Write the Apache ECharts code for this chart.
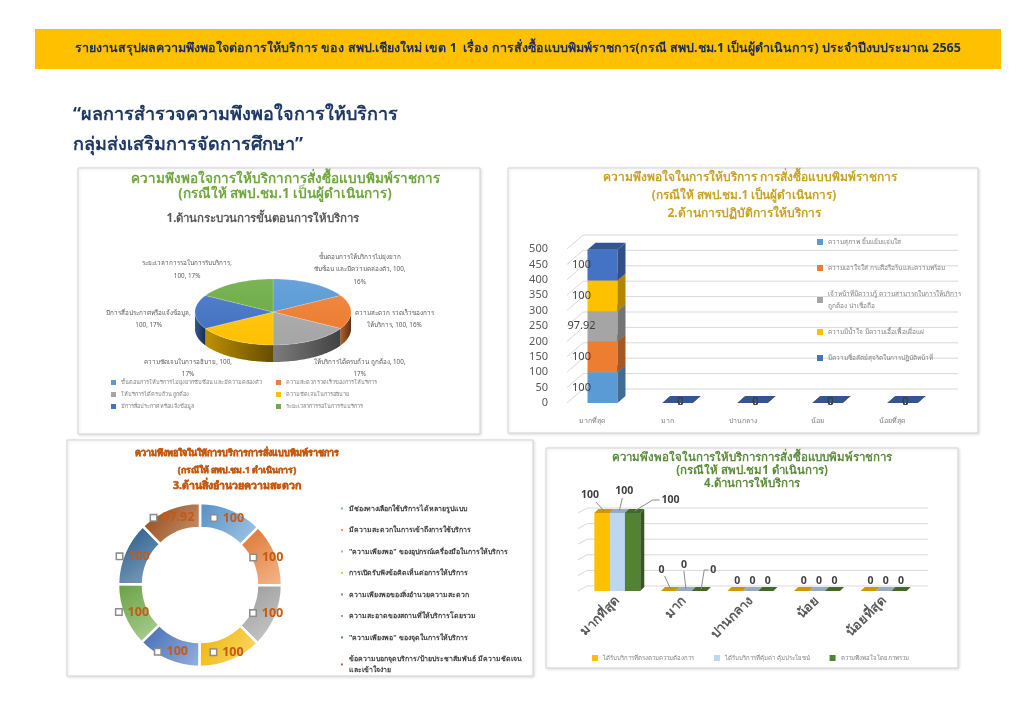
<!DOCTYPE html>
<html><head><meta charset="utf-8">
<script src="https://cdn.jsdelivr.net/npm/echarts@6/dist/echarts.min.js"></script>
<style>html,body{margin:0;padding:0;background:#fff}#c{width:1024px;height:725px}</style>
</head><body><div id="c"></div>
<script>
const FONT = "'Noto Sans', 'DejaVu Sans', sans-serif";
const ZW = '\u200B'; // soft line-break opportunity inside Thai text

// ---------- page text ----------
const headerText = 'รายงานสรุปผลความพึงพอใจต่อการให้บริการ ของ สพป.เชียงใหม่ เขต 1  เรื่อง การสั่งซื้อแบบพิมพ์ราชการ(กรณี สพป.ชม.1 เป็นผู้ดำเนินการ) ประจำปีงบประมาณ 2565';
const pageTitle = ['“ผลการสำรวจความพึงพอใจการให้บริการ', 'กลุ่มส่งเสริมการจัดการศึกษา”'];

// ---------- chart 1 (3D pie) ----------
const c1Title = ['ความพึงพอใจการให้บริกาการสั่งซื้อแบบพิมพ์ราชการ', '(กรณีให้ สพป.ชม.1 เป็นผู้ดำเนินการ)'];
const c1Sub = '1.ด้านกระบวนการขั้นตอนการให้บริการ';
const c1Names = ['ขั้นตอนการให้บริการไม่ยุ่งยาก' + ZW + 'ซับซ้อน และมีความคล่องตัว', 'ความสะดวก รวดเร็วของการ' + ZW + 'ให้บริการ', 'ให้บริการได้ครบถ้วน ถูกต้อง', 'ความชัดเจนในการอธิบาย', 'มีการสื่อประกาศหรือแจ้งข้อมูล', 'ระยะเวลาการรอในการรับบริการ'];
const c1Values = [100, 100, 100, 100, 100, 100];
const c1Pct = [16, 16, 17, 17, 17, 17];
const c1Colors = ['#5b9bd5', '#ed7d31', '#a5a5a5', '#ffc000', '#4472c4', '#70ad47'];

// ---------- chart 2 (3D stacked column) ----------
const c2Title = ['ความพึงพอใจในการให้บริการ การสั่งซื้อแบบพิมพ์ราชการ', '(กรณีให้ สพป.ชม.1 เป็นผู้ดำเนินการ)', '2.ด้านการปฏิบัติการให้บริการ'];
const c2Cats = ['มากที่สุด', 'มาก', 'ปานกลาง', 'น้อย', 'น้อยที่สุด'];
const c2Names = ['ความสุภาพ ยิ้มแย้มแจ่มใส', 'ความเอาใจใส่ กระตือรือร้น และความพร้อม', 'เจ้าหน้าที่มีความรู้ ความสามารถในการให้บริการ ถูกต้อง น่าเชื่อถือ', 'ความมีน้ำใจ มีความเอื้อเฟื้อเผื่อแผ่', 'มีความซื่อสัตย์สุจริตในการปฏิบัติหน้าที่'];
const c2S1 = [100, 0, 0, 0, 0];
const c2S2 = [100, 0, 0, 0, 0];
const c2S3 = [97.92, 0, 0, 0, 0];
const c2S4 = [100, 0, 0, 0, 0];
const c2S5 = [100, 0, 0, 0, 0];
const c2Ticks = [0, 50, 100, 150, 200, 250, 300, 350, 400, 450, 500];
const c2Colors = ['#5b9bd5', '#ed7d31', '#a5a5a5', '#ffc000', '#4472c4'];

// ---------- chart 3 (doughnut) ----------
const c3Title = ['ความพึงพอใจในให้การบริการการสั่งแบบพิมพ์ราชการ', '(กรณีให้ สพป.ชม.1 ดำเนินการ)', '3.ด้านสิ่งอำนวยความสะดวก'];
const c3Names = ['มีช่องทางเลือกใช้บริการได้หลายรูปแบบ', 'มีความสะดวกในการเข้าถึงการใช้บริการ', '"ความเพียงพอ" ของอุปกรณ์เครื่องมือในการให้บริการ', 'การเปิดรับฟังข้อคิดเห็นต่อการให้บริการ', 'ความเพียงพอของสิ่งอำนวยความสะดวก', 'ความสะอาดของสถานที่ให้บริการโดยรวม', '"ความเพียงพอ" ของจุดในการให้บริการ', 'ข้อความบอกจุดบริการ/ป้ายประชาสัมพันธ์ มีความชัดเจน' + ZW + 'และเข้าใจง่าย'];
const c3Values = [100, 100, 100, 100, 100, 100, 100, 97.92];
const c3Colors = ['#5b9bd5', '#ed7d31', '#a5a5a5', '#ffc000', '#4472c4', '#70ad47', '#255e91', '#9e480e'];

// ---------- chart 4 (3D clustered column) ----------
const c4Title = ['ความพึงพอใจในการให้บริการการสั่งซื้อแบบพิมพ์ราชการ', '(กรณีให้ สพป.ชม1 ดำเนินการ)', '4.ด้านการให้บริการ'];
const c4Cats = ['มากที่สุด', 'มาก', 'ปานกลาง', 'น้อย', 'น้อยที่สุด'];
const c4Names = ['ได้รับบริการที่ตรงตามความต้องการ', 'ได้รับบริการที่คุ้มค่า คุ้มประโยชน์', 'ความพึงพอใจโดยภาพรวม'];
const c4S1 = [100, 0, 0, 0, 0];
const c4S2 = [100, 0, 0, 0, 0];
const c4S3 = [100, 0, 0, 0, 0];
const c4Ticks = [0, 20, 40, 60, 80, 100];
const c4Colors = ['#ffc000', '#bdd7ee', '#548235'];

// ---------- helpers ----------
function mix(hex, target, t) {
  const a = parseInt(hex.slice(1), 16), b = parseInt(target.slice(1), 16);
  const ch = (n, s) => (n >> s) & 255;
  const r = Math.round(ch(a,16) + (ch(b,16) - ch(a,16)) * t);
  const g = Math.round(ch(a,8) + (ch(b,8) - ch(a,8)) * t);
  const bl = Math.round(ch(a,0) + (ch(b,0) - ch(a,0)) * t);
  return 'rgb(' + r + ',' + g + ',' + bl + ')';
}
const dark = (h, t) => mix(h, '#000000', t);
const light = (h, t) => mix(h, '#ffffff', t);
const mctx = document.createElement('canvas').getContext('2d');
function wrap(text, font, maxW) {
  mctx.font = font;
  const parts = text.split(/( |\u200B)/);
  const lines = []; let cur = '';
  for (let i = 0; i < parts.length; i += 2) {
    const w = parts[i], sep = i > 0 ? (parts[i - 1] === ' ' ? ' ' : '') : '';
    const t = cur ? cur + sep + w : w;
    if (cur && mctx.measureText(t).width > maxW) { lines.push(cur); cur = w; } else cur = t;
  }
  if (cur) lines.push(cur);
  let wmax = 0; lines.forEach(l => { wmax = Math.max(wmax, mctx.measureText(l).width); });
  return { text: lines.join('\n'), width: wmax };
}
const plain = s => s.split(ZW).join('');

// ---------- chart 1 custom 3D pie ----------
const P1 = { cx: 273, cy: 312, rx: 78, ry: 33, depth: 17 };
const c1Total = c1Values.reduce((a, b) => a + b, 0);
const c1Start = []; { let acc = 0; c1Values.forEach(v => { c1Start.push(acc); acc += v; }); }
function ep(a, off) { return [P1.cx + P1.rx * Math.sin(a), P1.cy - P1.ry * Math.cos(a) + (off || 0)]; }
function render1(i) {
  return function (params, api) {
    const v = api.value(0);
    const a0 = c1Start[i] / c1Total * 2 * Math.PI, a1 = (c1Start[i] + v) / c1Total * 2 * Math.PI;
    const col = c1Colors[i];
    const children = [];
    const n = 40;
    const s0 = Math.max(a0, Math.PI / 2), s1 = Math.min(a1, 3 * Math.PI / 2);
    if (s1 > s0) {
      const top = [], bot = [];
      for (let k = 0; k <= n; k++) { const a = s0 + (s1 - s0) * k / n; top.push(ep(a)); bot.push(ep(a, P1.depth)); }
      children.push({ type: 'polygon', z2: 1, shape: { points: top.concat(bot.reverse()) },
        style: { fill: new echarts.graphic.LinearGradient(0, 0, 1, 0, [{ offset: 0, color: dark(col, 0.25) }, { offset: 1, color: dark(col, 0.6) }]) } });
    }
    const pts = [[P1.cx, P1.cy]];
    for (let k = 0; k <= n; k++) pts.push(ep(a0 + (a1 - a0) * k / n));
    children.push({ type: 'polygon', z2: 5, shape: { points: pts },
      style: { fill: new echarts.graphic.LinearGradient(0, 0, 0, 1, [{ offset: 0, color: light(col, 0.08) }, { offset: 1, color: col }]), stroke: 'rgba(255,255,255,0.35)', lineWidth: 0.5 } });
    const am = (a0 + a1) / 2, s = Math.sin(am);
    const font = '6.3px ' + FONT;
    const w = wrap(c1Names[i] + ', ' + v + ', ' + c1Pct[i] + '%', font, 92);
    const ex = P1.cx + (P1.rx + 4) * s;
    const ey = P1.cy + 7 - (P1.ry + 24) * Math.cos(am);
    const lx = s > 0.05 ? ex + w.width / 2 : (s < -0.05 ? ex - w.width / 2 : ex);
    children.push({ type: 'text', z2: 6, x: lx, y: ey,
      style: { text: w.text, fill: '#595959', font: font, align: 'center', verticalAlign: 'middle', lineHeight: 12.5 } });
    return { type: 'group', children: children };
  };
}

// ---------- chart 2 custom 3D stacked ----------
const c2Series = [c2S1, c2S2, c2S3, c2S4, c2S5];
function c2Data(si) {
  return c2Cats.map((c, j) => {
    let base = 0; for (let k = 0; k < si; k++) base += c2Series[k][j];
    return [j, base, base + c2Series[si][j], c2Series[si][j]];
  });
}
function render2(si) {
  return function (params, api) {
    const j = api.value(0), base = api.value(1), top = api.value(2), v = api.value(3);
    const pb = api.coord([j, base]), pt = api.coord([j, top]);
    const bw = api.size([1, 0])[0] * 0.4;
    const x1 = pb[0] - bw / 2, x2 = pb[0] + bw / 2, yb = pb[1], yt = pt[1];
    const dx = 8, dy = -7;
    const col = c2Colors[si];
    const ch = [];
    ch.push({ type: 'rect', shape: { x: x1, y: yt, width: bw, height: yb - yt }, style: { fill: col } });
    ch.push({ type: 'polygon', shape: { points: [[x2, yt], [x2 + dx, yt + dy], [x2 + dx, yb + dy], [x2, yb]] }, style: { fill: dark(col, 0.3) } });
    ch.push({ type: 'polygon', shape: { points: [[x1, yt], [x1 + dx, yt + dy], [x2 + dx, yt + dy], [x2, yt]] }, style: { fill: dark(col, 0.25) } });
    if (v > 0) {
      ch.push({ type: 'text', x: pb[0] - 21, y: (yb + yt) / 2, z2: 10, style: { text: String(v), fill: '#404040', font: '11px ' + FONT, align: 'center', verticalAlign: 'middle' } });
    } else {
      ch.push({ type: 'text', x: pb[0] + 3, y: yb - 1, z2: 10, style: { text: '0', fill: '#404040', font: '11px ' + FONT, align: 'center', verticalAlign: 'middle' } });
    }
    return { type: 'group', children: ch };
  };
}
function renderGrid(gdx, gdy, sx) {
  return function (params, api) {
    const cs = params.coordSys;
    const y = api.coord([0, api.value(1)])[1];
    return { type: 'polyline', shape: { points: [[cs.x + sx, y], [cs.x + sx + gdx, y + gdy], [cs.x + cs.width + gdx + 2, y + gdy]] },
      style: { stroke: '#d9d9d9', lineWidth: 1, fill: null } };
  };
}

// ---------- chart 4 custom 3D clustered ----------
const c4Series = [c4S1, c4S2, c4S3];
// label placement with leader lines for the first two categories: [category][series]
const c4Lead = [
  [ { t: [-14, -16], l: [[0, 0], [-8, -9]] }, { t: [5, -20], l: [[0, 0], [3, -13]] }, { t: [36, -11], l: [[0, 0], [18, -11], [25, -11]] } ],
  [ { t: [-9, -19], l: [[0, 0], [-6, -13]] }, { t: [-2, -24], l: [[0, 0], [-2, -18]] }, { t: [12, -19], l: [[0, 0], [3, -19], [7, -19]] } ]
];
function render4(si) {
  return function (params, api) {
    const j = api.value(0), v = api.value(1);
    const p0 = api.coord([j, 0]), p1 = api.coord([j, v]);
    const bw = api.size([1, 0])[0] * 0.23;
    const cx = p0[0] + (si - 1) * bw;
    const x1 = cx - bw / 2, x2 = cx + bw / 2, yb = p0[1], yt = p1[1];
    const dx = 4, dy = -4;
    const col = c4Colors[si];
    const ch = [];
    ch.push({ type: 'rect', shape: { x: x1, y: yt, width: bw, height: yb - yt }, style: { fill: col } });
    ch.push({ type: 'polygon', shape: { points: [[x2, yt], [x2 + dx, yt + dy], [x2 + dx, yb + dy], [x2, yb]] }, style: { fill: dark(col, 0.35) } });
    ch.push({ type: 'polygon', shape: { points: [[x1, yt], [x1 + dx, yt + dy], [x2 + dx, yt + dy], [x2, yt]] }, style: { fill: dark(col, 0.2) } });
    const font = 'bold 10.5px ' + FONT;
    const ax = cx + 2, ay = yt - 2;
    if (j < 2) {
      const L = c4Lead[j][si];
      ch.push({ type: 'polyline', z2: 9, shape: { points: L.l.map(p => [ax + p[0], ay + p[1]]) }, style: { stroke: '#8c8c8c', lineWidth: 1, fill: null } });
      ch.push({ type: 'text', x: ax + L.t[0], y: ay + L.t[1], z2: 10, style: { text: String(v), fill: '#404040', font: font, align: 'center', verticalAlign: 'middle' } });
    } else {
      ch.push({ type: 'text', x: ax, y: yt - 10, z2: 10, style: { text: String(v), fill: '#404040', font: font, align: 'center', verticalAlign: 'middle' } });
    }
    return { type: 'group', children: ch };
  };
}

// ---------- graphics ----------
function panel(x, y, w, h) {
  return { type: 'rect', z: -10, shape: { x: x, y: y, width: w, height: h },
    style: { fill: '#ffffff', stroke: '#d4d4d4', lineWidth: 1, shadowBlur: 3, shadowColor: 'rgba(0,0,0,0.12)', shadowOffsetX: 1, shadowOffsetY: 1 } };
}
function txt(text, x, y, font, color, align, extra) {
  return { type: 'text', z: 10, x: x, y: y, style: Object.assign({ text: text, font: font, fill: color, align: align || 'center', verticalAlign: 'middle' }, extra || {}) };
}
const thick = { stroke: '#c55a11', lineWidth: 0.6 };
const graphics = [
  { type: 'rect', z: -10, shape: { x: 35, y: 29, width: 966, height: 40 }, style: { fill: '#ffc000' } },
  panel(78, 168, 402, 266), panel(508, 168, 470, 265), panel(67, 440, 466, 236), panel(546, 448, 412, 220),
  txt(headerText, 518, 48, 'bold 12.5px ' + FONT, '#1f2a5c'),
  txt(pageTitle[0], 73, 115, 'bold 18px ' + FONT, '#1f3864', 'left'),
  txt(pageTitle[1], 73, 145, 'bold 18px ' + FONT, '#1f3864', 'left'),
  txt(c1Title[0], 285, 179, 'bold 13.5px ' + FONT, '#70a83f'),
  txt(c1Title[1], 285, 194, 'bold 13.5px ' + FONT, '#70a83f'),
  txt(c1Sub, 263, 219, 'bold 11.5px ' + FONT, '#595959'),
  txt(c2Title[0], 750, 178, 'bold 12px ' + FONT, '#c9a227'),
  txt(c2Title[1], 744, 196, 'bold 11.8px ' + FONT, '#c9a227'),
  txt(c2Title[2], 744, 214, 'bold 12px ' + FONT, '#c9a227'),
  txt(c3Title[0], 237, 453, 'bold 9px ' + FONT, '#c55a11', 'center', thick),
  txt(c3Title[1], 237, 470, 'bold 8.8px ' + FONT, '#c55a11', 'center', thick),
  txt(c3Title[2], 237, 486, 'bold 10.5px ' + FONT, '#c55a11', 'center', thick),
  txt(c4Title[0], 752, 458, 'bold 11.5px ' + FONT, '#5b8c3a'),
  txt(c4Title[1], 752, 471, 'bold 11.5px ' + FONT, '#5b8c3a'),
  txt(c4Title[2], 752, 484, 'bold 11.5px ' + FONT, '#5b8c3a')
];

// ---------- series ----------
const series = [];
c1Names.forEach((nm, i) => {
  series.push({ type: 'custom', name: nm, coordinateSystem: 'none', renderItem: render1(i), data: [[c1Values[i]]], itemStyle: { color: c1Colors[i] }, silent: true });
});
series.push({ type: 'custom', name: 'grid2', coordinateSystem: 'cartesian2d', xAxisIndex: 0, yAxisIndex: 0, z: 1, renderItem: renderGrid(16, -14, 2), data: c2Ticks.map(t => [0, t]), silent: true });
c2Names.forEach((nm, i) => {
  series.push({ type: 'custom', name: nm, coordinateSystem: 'cartesian2d', xAxisIndex: 0, yAxisIndex: 0, z: 3, renderItem: render2(i), data: c2Data(i), itemStyle: { color: c2Colors[i] }, encode: { x: 0, y: 2 }, silent: true });
});
series.push({
  type: 'pie', name: 'c3', center: [200, 585], radius: [57, 82], startAngle: 90, clockwise: true, silent: true,
  itemStyle: { borderColor: '#ffffff', borderWidth: 2.5 },
  label: { position: 'inside', formatter: p => '{i|}  {v|' + p.value + '}',
    rich: { i: { width: 5, height: 5, backgroundColor: '#ffffff', borderColor: '#8c8c8c', borderWidth: 1.5 },
            v: { fontFamily: FONT, fontSize: 12.5, fontWeight: 'bold', color: '#c55a11' } } },
  labelLine: { show: false },
  data: c3Names.map((nm, i) => ({ name: nm, value: c3Values[i],
    itemStyle: { color: new echarts.graphic.LinearGradient(0, 0, 1, 1, [{ offset: 0, color: dark(c3Colors[i], 0.08) }, { offset: 1, color: light(c3Colors[i], 0.45) }]) } }))
});
series.push({ type: 'custom', name: 'grid4', coordinateSystem: 'cartesian2d', xAxisIndex: 1, yAxisIndex: 1, z: 1, renderItem: renderGrid(9, -5, -6), data: c4Ticks.map(t => [0, t]), silent: true });
c4Names.forEach((nm, i) => {
  series.push({ type: 'custom', name: nm, coordinateSystem: 'cartesian2d', xAxisIndex: 1, yAxisIndex: 1, z: 3, renderItem: render4(i), data: c4Cats.map((c, j) => [j, c4Series[i][j]]), itemStyle: { color: c4Colors[i] }, encode: { x: 0, y: 1 }, silent: true });
});

const legendText = { fontFamily: FONT, color: '#7f7f7f' };
const option = {
  animation: false,
  backgroundColor: '#ffffff',
  textStyle: { fontFamily: FONT },
  graphic: graphics,
  grid: [
    { left: 565, top: 249, width: 375, height: 154 },
    { left: 584, top: 513, width: 333, height: 78 }
  ],
  xAxis: [
    { gridIndex: 0, type: 'category', data: c2Cats, axisLine: { show: false }, axisTick: { show: false },
      axisLabel: { interval: 0, fontSize: 7, color: '#7f7f7f', margin: 14, padding: [0, 20, 0, 0] } },
    { gridIndex: 1, type: 'category', data: c4Cats, axisLine: { show: false }, axisTick: { show: false },
      axisLabel: { interval: 0, rotate: 45, fontSize: 13, fontWeight: 'bold', color: '#595959', margin: 8 } }
  ],
  yAxis: [
    { gridIndex: 0, type: 'value', min: 0, max: 500, interval: 50, splitLine: { show: false }, axisLine: { show: false }, axisTick: { show: false },
      axisLabel: { fontSize: 11, color: '#595959', margin: 17 } },
    { gridIndex: 1, type: 'value', min: 0, max: 100, interval: 20, splitLine: { show: false }, axisLine: { show: false }, axisTick: { show: false },
      axisLabel: { show: false } }
  ],
  legend: [
    { data: c1Names, left: 106, top: 373, width: 330, orient: 'horizontal', icon: 'rect', itemWidth: 5, itemHeight: 5, itemGap: 3, selectedMode: false,
      formatter: n => plain(n),
      textStyle: Object.assign({ fontSize: 5.6, width: 152, overflow: 'truncate', lineHeight: 9 }, legendText) },
    { data: c2Names, left: 812, top: 231, orient: 'vertical', icon: 'rect', itemWidth: 6, itemHeight: 6, itemGap: 14, selectedMode: false,
      formatter: n => wrap(n, '6.5px ' + FONT, 140).text,
      textStyle: Object.assign({ fontSize: 6.5, lineHeight: 12 }, legendText) },
    { data: c3Names, left: 334, top: 498, orient: 'vertical', icon: 'rect', itemWidth: 4, itemHeight: 4, itemGap: 10.5, selectedMode: false,
      formatter: n => wrap(n, 'bold 7px ' + FONT, 182).text,
      textStyle: { fontFamily: FONT, fontSize: 7, fontWeight: 'bold', color: '#404040', lineHeight: 11 } },
    { data: c4Names, left: 587, top: 650, orient: 'horizontal', icon: 'rect', itemWidth: 6, itemHeight: 6, itemGap: 20, selectedMode: false,
      textStyle: Object.assign({ fontSize: 6 }, legendText) }
  ],
  series: series
};
const chart = echarts.init(document.getElementById('c'), null, { renderer: 'canvas', width: 1024, height: 725 });
chart.setOption(option);
</script>
</body></html>
